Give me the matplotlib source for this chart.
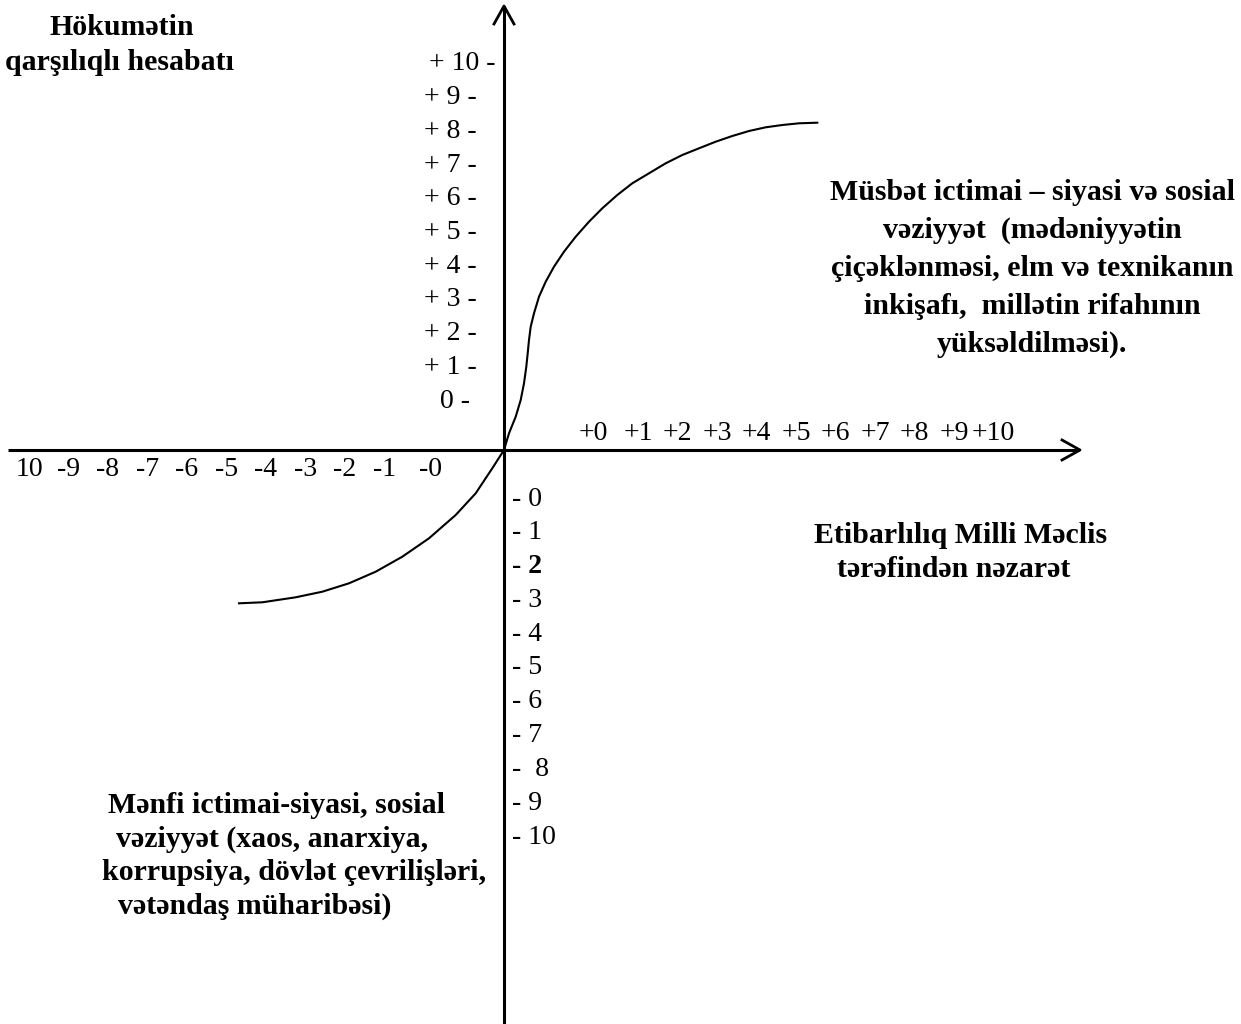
import numpy as np
import matplotlib
matplotlib.use("Agg")
import matplotlib.pyplot as plt

plt.rcParams['font.family'] = ['Liberation Serif', 'DejaVu Serif']

# curve, units = pixels relative to the axis crossing
curve_x = [-265, -241.7, -208.3, -181.7, -155, -128.3, -101.7, -75, -48.3, -28.3, -11.7, 0,
           5, 11.7, 16.7, 20, 22.3, 23.7, 25, 26.7, 30, 35, 41.7, 50, 60, 71.7, 85, 98.3,
           113.3, 128.3, 145, 161.7, 178.3, 195, 211.7, 228.3, 245, 261.7, 278.3, 295, 313.3]
curve_y = [-153.3, -152.3, -147.3, -141.7, -133.3, -121.7, -106.7, -88.3, -65, -43.3, -18.3, 0,
           16.7, 33.3, 50, 66.7, 83.3, 96.7, 110, 123.3, 136.7, 153.3, 168.3, 183.3, 198.3, 213.3,
           228.3, 241.7, 255, 266.7, 276.7, 286.7, 295, 301.7, 308.3, 314, 319, 322.7, 325, 326.7, 327.3]

# tick labels along the axes
y_pos_labels = ['0 -', '+ 1 -', '+ 2 -', '+ 3 -', '+ 4 -', '+ 5 -', '+ 6 -', '+ 7 -', '+ 8 -', '+ 9 -', '+ 10 -']
y_neg_labels = ['- 0', '- 1', '- 2', '- 3', '- 4', '- 5', '- 6', '- 7', '-  8', '- 9', '- 10']
x_pos_labels = ['+0', '+1', '+2', '+3', '+4', '+5', '+6', '+7', '+8', '+9', '+10']
x_neg_labels = ['10', '-9', '-8', '-7', '-6', '-5', '-4', '-3', '-2', '-1', '-0']

title_top = ['Hökumətin', 'qarşılıqlı hesabatı']
text_pos = ['Müsbət ictimai – siyasi və sosial', 'vəziyyət  (mədəniyyətin',
            'çiçəklənməsi, elm və texnikanın', 'inkişafı,  millətin rifahının',
            'yüksəldilməsi).']
text_x = ['Etibarlılıq Milli Məclis', 'tərəfindən nəzarət']
text_neg = ['Mənfi ictimai-siyasi, sosial', 'vəziyyət (xaos, anarxiya,',
            'korrupsiya, dövlət çevrilişləri,', 'vətəndaş müharibəsi)']

W, H = 1241, 1024
ox, oy = 504, 450  # axis crossing in the picture

fig = plt.figure(figsize=(W / 100, H / 100), dpi=100)
ax = fig.add_axes([0, 0, 1, 1])
ax.set_xlim(-ox, W - ox)
ax.set_ylim(oy - H, oy)
ax.axis('off')

axis_kw = dict(color='black', lw=2.2, solid_capstyle='butt')
# y axis with arrow
ax.plot([0, 0], [oy - H, 444], **axis_kw)
ax.plot([-10, 0, 10], [426, 444, 426], color='black', lw=2.0)
# x axis with arrow
ax.plot([-496, 575], [0, 0], **axis_kw)
ax.plot([558, 576, 558], [10, 0, -10], color='black', lw=2.0)

# the curve
ax.plot(curve_x, curve_y, color='black', lw=1.5, solid_joinstyle='round')

num = dict(fontsize=20, color='black')
for v, lab in enumerate(y_pos_labels):
    if v == 10:
        x0 = -75
    elif v == 0:
        x0 = -64
    else:
        x0 = -80
    ax.text(x0, 33.7 * v + 42.5, lab, ha='left', va='baseline', **num)

for k, lab in enumerate(y_neg_labels):
    ax.text(8, -55.5 - 33.8 * k, lab, ha='left', va='baseline',
            fontweight='bold' if k == 2 else 'normal', **num)

for i, lab in enumerate(x_pos_labels):
    cx = 89 if i == 0 else 134 + 39.5 * (i - 1)
    ax.text(cx, 9.5, lab, ha='center', va='baseline', **num)

for i, lab in enumerate(x_neg_labels):
    cx = -73 if i == 10 else -475 + 39.5 * i
    ax.text(cx, -25.5, lab, ha='center', va='baseline', **num)

bold = dict(fontsize=21.5, fontweight='bold', color='black', va='baseline')
ax.text(-382, 415, title_top[0], ha='center', **bold)
ax.text(-384, 380, title_top[1], ha='center', **bold)

for j, line in enumerate(text_pos):
    ax.text(528, 250 - 38 * j, line, ha='center', **bold)

ax.text(457, -93, text_x[0], ha='center', **bold)
ax.text(450, -127, text_x[1], ha='center', **bold)

neg_x = [-396, -388, -402, -386]
for j, line in enumerate(text_neg):
    ax.text(neg_x[j], -363 - 33.5 * j, line, ha='left', **bold)

fig.savefig('out.png', dpi=100, facecolor='white')
